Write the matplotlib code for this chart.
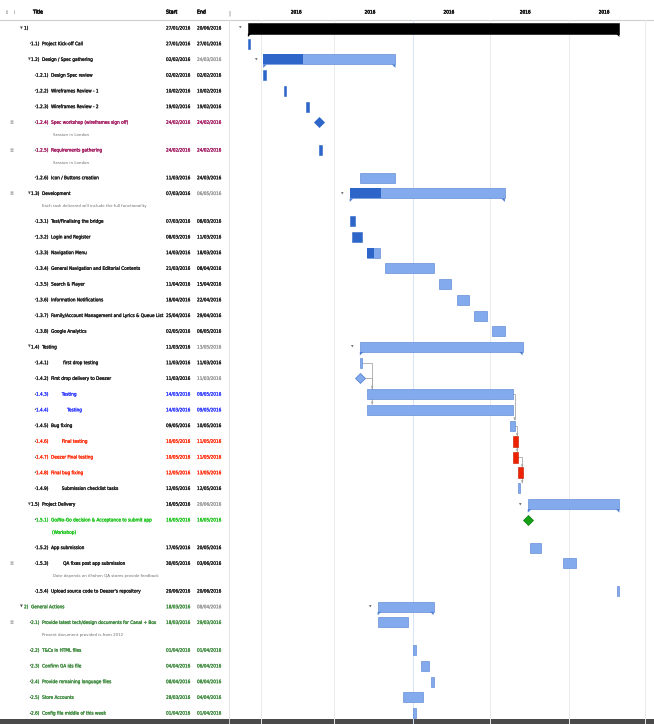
import datetime as dt
import os
import matplotlib
matplotlib.use('Agg')
import matplotlib.pyplot as plt
import matplotlib.dates as mdates
import matplotlib.patheffects as pe
from matplotlib import font_manager
from matplotlib.font_manager import FontProperties
from matplotlib.patches import Polygon, Rectangle

# === Données du planning
ids = ['1)', '1.1)', '1.2)', '1.2.1)', '1.2.2)', '1.2.3)', '1.2.4)', '1.2.5)', '1.2.6)',
       '1.3)', '1.3.1)', '1.3.2)', '1.3.3)', '1.3.4)', '1.3.5)', '1.3.6)', '1.3.7)', '1.3.8)',
       '1.4)', '1.4.1)', '1.4.2)', '1.4.3)', '1.4.4)', '1.4.5)', '1.4.6)', '1.4.7)', '1.4.8)', '1.4.9)',
       '1.5)', '1.5.1)', '1.5.2)', '1.5.3)', '1.5.4)',
       '2)', '2.1)', '2.2)', '2.3)', '2.4)', '2.5)', '2.6)']
titles = ['', 'Project Kick-off Call', 'Design / Spec gathering', 'Design Spec review',
          'Wireframes Review - 1', 'Wireframes Review - 2', 'Spec workshop (wireframes sign off)',
          'Requirements gathering', 'Icon / Buttons creation',
          'Development', 'Test/Finalising the bridge', 'Login and Register', 'Navigation Menu',
          'General Navigation and Editorial Contents', 'Search & Player', 'Information Notifications',
          'Family/Account Management and Lyrics & Queue List', 'Google Analytics',
          'Testing', '         first drop testing', 'First drop delivery to Deezer', '        Testing',
          '            Testing', 'Bug fixing', '        Final testing', 'Deezer Final testing',
          'Final bug fixing', '        Submission checklist tasks',
          'Project Delivery', 'Go/No-Go decision & Acceptance to submit app\n(Workshop)',
          'App submission', '         QA fixes post app submission',
          "Upload source code to Deezer's repository",
          'General Actions', 'Provide latest tech/design documents for Canal + Box',
          'T&Cs in HTML files', 'Confirm GA ids file', 'Provide remaining language files',
          'Store Accounts', 'Config file middle of this week']
starts = ['27/01/2016', '27/01/2016', '02/02/2016', '02/02/2016', '10/02/2016', '19/02/2016',
          '24/02/2016', '24/02/2016', '11/03/2016',
          '07/03/2016', '07/03/2016', '08/03/2016', '14/03/2016', '21/03/2016', '11/04/2016',
          '18/04/2016', '25/04/2016', '02/05/2016',
          '11/03/2016', '11/03/2016', '11/03/2016', '14/03/2016', '14/03/2016', '09/05/2016',
          '10/05/2016', '10/05/2016', '12/05/2016', '12/05/2016',
          '16/05/2016', '16/05/2016', '17/05/2016', '30/05/2016', '20/06/2016',
          '18/03/2016', '18/03/2016', '01/04/2016', '04/04/2016', '08/04/2016', '28/03/2016',
          '01/04/2016']
ends = ['20/06/2016', '27/01/2016', '24/03/2016', '02/02/2016', '10/02/2016', '19/02/2016',
        '24/02/2016', '24/02/2016', '24/03/2016',
        '06/05/2016', '08/03/2016', '11/03/2016', '18/03/2016', '08/04/2016', '15/04/2016',
        '22/04/2016', '29/04/2016', '06/05/2016',
        '13/05/2016', '11/03/2016', '11/03/2016', '09/05/2016', '09/05/2016', '10/05/2016',
        '11/05/2016', '11/05/2016', '13/05/2016', '12/05/2016',
        '20/06/2016', '16/05/2016', '20/05/2016', '03/06/2016', '20/06/2016',
        '08/04/2016', '29/03/2016', '01/04/2016', '06/04/2016', '08/04/2016', '04/04/2016',
        '01/04/2016']
# top / group / task / milestone
kinds = ['top', 'task', 'group', 'task', 'task', 'task', 'milestone', 'task', 'task',
         'group', 'task', 'task', 'task', 'task', 'task', 'task', 'task', 'task',
         'group', 'task', 'milestone', 'task', 'task', 'task', 'task', 'task', 'task', 'task',
         'group', 'milestone', 'task', 'task', 'task',
         'group', 'task', 'task', 'task', 'task', 'task', 'task']
# avancement (part foncée de la barre)
progress = [1, 1, 0.3, 1, 1, 1, 1, 1, 0,
            0.2, 1, 1, 0.5, 0, 0, 0, 0, 0,
            0, 0, 0, 0, 0, 0, 0, 0, 0, 0,
            0, 0, 0, 0, 0,
            0, 0, 0, 0, 0, 0, 0]
notes = {'1.2.4)': 'Session in London',
         '1.2.5)': 'Session in London',
         '1.3)': 'Each task delivered will include the full functionality',
         '1.5.3)': 'Date depends on if/when QA stores provide feedback',
         '2.1)': 'Present document provided is from 2012'}
dependencies = [('1.4.1)', '1.4.3)'), ('1.4.2)', '1.4.4)'), ('1.4.3)', '1.4.5)'),
                ('1.4.5)', '1.4.6)'), ('1.4.6)', '1.4.7)'), ('1.4.7)', '1.4.8)'),
                ('1.4.8)', '1.4.9)')]

# === Couleurs
BLACK = '#1c1c1c'
GREY = '#9a9a9a'
PURPLE = '#a2195f'
BLUE_TXT = '#2b36ff'
RED_TXT = '#ff2a08'
GREEN_BRIGHT = '#19c419'
GREEN = '#3d8a3d'
DARK_BAR = '#2d66c8'
LIGHT_BAR = '#82aaec'
EDGE_BAR = '#4f7fd2'
RED_BAR = '#ee2200'

def text_color(rid):
    if rid in ('1.2.4)', '1.2.5)'):
        return PURPLE
    if rid in ('1.4.3)', '1.4.4)'):
        return BLUE_TXT
    if rid in ('1.4.6)', '1.4.7)', '1.4.8)'):
        return RED_TXT
    if rid == '1.5.1)':
        return GREEN_BRIGHT
    if rid.startswith('2'):
        return GREEN
    return BLACK

# === Police étroite (sans serif) si disponible
narrow = None
for f in font_manager.fontManager.ttflist:
    base = os.path.basename(f.fname)
    if 'Mono' in f.name or 'Serif' in f.name or 'Mono' in base or 'Serif' in base:
        continue
    if 'Bold' in base or 'Italic' in base or 'Oblique' in base:
        continue
    if 'Narrow' in base or 'Condensed' in base or 'Narrow' in f.name:
        if narrow is None or 'Liberation' in f.name:
            narrow = f.fname
if narrow:
    FS = 3.38
    def fp(size=None, bold=False):
        return FontProperties(fname=narrow, size=size or FS)
else:
    FS = 3.25
    def fp(size=None, bold=False):
        return FontProperties(family='Liberation Sans', size=size or FS,
                              weight='bold' if bold else 'normal')

def heavy(color, w=0.18):
    # texte un peu plus gras, comme la capture d'origine
    return [pe.withStroke(linewidth=w, foreground=color)]

def to_num(s):
    return mdates.date2num(dt.datetime.strptime(s, '%d/%m/%Y'))

# === Position verticale des lignes (pixels)
W, H = 654, 724
row_y = []
y = 28
for i, rid in enumerate(ids):
    row_y.append(y)
    y += 15.72
    if rid in notes or '\n' in titles[i]:
        y += 12

fig = plt.figure(figsize=(W / 100, H / 100), dpi=100)
fig.patch.set_facecolor('white')

# === Tableau de gauche
ax_t = fig.add_axes([0, 0, 1, 1])
ax_t.set_xlim(0, W)
ax_t.set_ylim(H, 0)
ax_t.axis('off')

ax_t.plot([0, W], [20, 20], color='#cfcfcf', lw=0.8)
ax_t.plot([229, 229], [20, H], color='#dedede', lw=0.6)
ax_t.text(5, 12, '⇕', fontsize=3.5, color='#777', va='center', ha='left')
ax_t.text(13, 12, 'ⅰ', fontsize=3.5, color='#777', va='center', ha='left')
for hx, lab in ((33, 'Title'), (166, 'Start'), (197, 'End')):
    ax_t.text(hx, 12, lab, fontproperties=fp(3.7), color=BLACK, va='center',
              path_effects=heavy(BLACK, 0.4))
ax_t.text(229, 13, '|', fontsize=4, color='#555', va='center', ha='center')

for i, rid in enumerate(ids):
    y = row_y[i]
    level = 0 if rid in ('1)', '2)') else rid.count('.')
    col = text_color(rid)
    marker_x = [20, 28, 33][level]
    num_x = [24, 31, 36][level]
    title_x = [33, 41, 52][level]
    marker = '▼' if kinds[i] in ('top', 'group') else '•'
    ax_t.text(marker_x, y, marker, fontsize=2.6 if marker == '▼' else 3.4,
              color='#555', va='center', ha='left')
    lines = titles[i].split('\n')
    ax_t.text(num_x, y, rid + '  ' + lines[0], fontproperties=fp(), color=col,
              va='center', ha='left', path_effects=heavy(col))
    for k, extra in enumerate(lines[1:]):
        ax_t.text(title_x, y + 12.5 * (k + 1), extra, fontproperties=fp(), color=col,
                  va='center', ha='left', path_effects=heavy(col))
    ax_t.text(166, y, starts[i], fontproperties=fp(), color=col, va='center',
              path_effects=heavy(col))
    end_col = GREY if kinds[i] == 'group' or rid == '1.4.2)' else col
    ax_t.text(197, y, ends[i], fontproperties=fp(), color=end_col, va='center',
              path_effects=heavy(end_col))
    if rid in notes:
        ax_t.text(12, y, '≣', fontsize=3.5, color='#888', va='center', ha='center')
        ax_t.text(title_x + 1, y + 12.5, notes[rid], fontproperties=fp(FS - 0.2),
                  color='#6a6a6a', va='center', ha='left')

# bande sombre en bas
ax_t.add_patch(Rectangle((0, 719), W, 5, color='#4a4a4a', lw=0))

# === Diagramme de Gantt
x0 = 232
ax_g = fig.add_axes([x0 / W, 0, (W - x0) / W, 1])
ax_g.set_ylim(H, 0)
ax_g.set_xlim(to_num('20/01/2016') + 0.75, to_num('04/07/2016') + 0.6)
ax_g.axis('off')

for m in range(2, 8):
    xm = mdates.date2num(dt.datetime(2016, m, 1))
    c = '#d6e4f6' if m == 4 else '#ebebeb'
    ax_g.plot([xm, xm], [20, H], color=c, lw=0.7, zorder=0)
for m in range(2, 7):
    xm = mdates.date2num(dt.datetime(2016, m, 15))
    ax_g.text(xm, 12, '2016', fontproperties=fp(3.4), color=BLACK, va='center', ha='center',
              path_effects=heavy(BLACK, 0.35))

def summary(ax, x1, x2, y, h, color, dark=None, frac=0):
    ax.barh(y, x2 - x1, left=x1, height=h, color=color, edgecolor=EDGE_BAR if dark else color,
            lw=0.4, zorder=3)
    if dark and frac > 0:
        ax.barh(y, (x2 - x1) * frac, left=x1, height=h, color=dark, lw=0, zorder=4)
    hook_c = color if dark is None else EDGE_BAR
    for xe, d in ((x1, 1), (x2, -1)):
        ax.add_patch(Polygon([(xe, y + h / 2), (xe + d * 1.4, y + h / 2), (xe, y + h / 2 + 3.5)],
                             closed=True, color=hook_c, lw=0, zorder=3))
    ax.text(x1 - 2.8, y, '▼', fontsize=2.4, color='#666', va='center', ha='center')

index = {rid: i for i, rid in enumerate(ids)}

for i, rid in enumerate(ids):
    y = row_y[i]
    s = to_num(starts[i])
    e = to_num(ends[i]) + 1
    if kinds[i] == 'top':
        summary(ax_g, s, e, y, 11, '#000000')
    elif kinds[i] == 'group':
        summary(ax_g, s, e, y, 10, LIGHT_BAR, DARK_BAR, progress[i])
    elif kinds[i] == 'milestone':
        if rid == '1.5.1)':
            fc, ec = '#16a016', '#0d7a0d'
        elif progress[i] >= 1:
            fc, ec = DARK_BAR, DARK_BAR
        else:
            fc, ec = LIGHT_BAR, EDGE_BAR
        ax_g.plot(s, y, marker='D', markersize=5.6, color=fc, markeredgecolor=ec,
                  markeredgewidth=0.5, zorder=5)
    else:
        red = rid in ('1.4.6)', '1.4.7)', '1.4.8)')
        if red:
            ax_g.barh(y, e - s, left=s, height=11, color=RED_BAR, edgecolor='#c01800',
                      lw=0.4, zorder=4)
        else:
            base = DARK_BAR if progress[i] >= 1 else LIGHT_BAR
            ax_g.barh(y, e - s, left=s, height=10, color=base,
                      edgecolor=DARK_BAR if progress[i] >= 1 else EDGE_BAR, lw=0.4, zorder=4)
            if 0 < progress[i] < 1:
                ax_g.barh(y, (e - s) * progress[i], left=s, height=10, color=DARK_BAR,
                          lw=0, zorder=5)

# liens de dépendance
for a, b in dependencies:
    ia, ib = index[a], index[b]
    xa = to_num(ends[ia]) + 1
    if kinds[ia] == 'milestone':
        xa = to_num(starts[ia])
    xb = to_num(starts[ib]) + 0.6
    ya, yb = row_y[ia], row_y[ib] - 5.5
    ax_g.plot([xa, xb + 1.2, xb + 1.2], [ya, ya, yb - 1], color='#a8a8a8', lw=0.6, zorder=2)
    ax_g.annotate('', xy=(xb + 1.2, yb), xytext=(xb + 1.2, yb - 3),
                  arrowprops=dict(arrowstyle='-|>', color='#a8a8a8', lw=0.5,
                                  mutation_scale=3), zorder=2)

plt.savefig('out.png', dpi=100)
plt.close()
